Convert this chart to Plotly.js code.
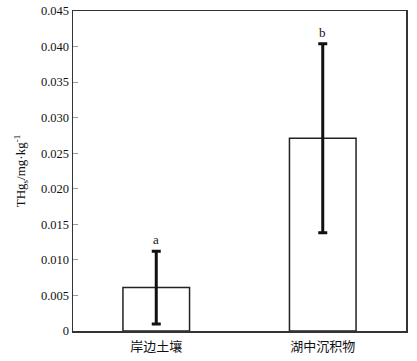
<!DOCTYPE html>
<html><head><meta charset="utf-8">
<script src="https://cdn.plot.ly/plotly-3.0.1.min.js"></script>
<style>html,body{margin:0;padding:0;background:#fff;}#chart{width:417px;height:361px;}</style>
</head><body><div id="chart"></div>
<script>
const categories = ["岸边土壤", "湖中沉积物"];
const means = [0.0061, 0.0271];
const errors = [0.0051, 0.0133];
const letters = ["a", "b"];
const yTickVals = [0, 0.005, 0.010, 0.015, 0.020, 0.025, 0.030, 0.035, 0.040, 0.045];
const yTickText = ["0", "0.005", "0.010", "0.015", "0.020", "0.025", "0.030", "0.035", "0.040", "0.045"];

const trace = {
  type: "bar",
  x: categories,
  y: means,
  width: 0.4,
  marker: {color: "rgba(255,255,255,1)", line: {color: "#222", width: 1.5}},
  error_y: {type: "data", array: errors, visible: true, color: "#111", thickness: 3, width: 4.5},
  hoverinfo: "none"
};

const annotations = categories.map((c, i) => ({
  x: c, y: means[i] + errors[i], yanchor: "bottom", yshift: 2,
  text: letters[i], showarrow: false,
  font: {family: "Liberation Serif, Times New Roman, serif", size: 13, color: "#111"}
}));

const layout = {
  width: 417, height: 361,
  margin: {l: 73, r: 11, t: 11, b: 30},
  paper_bgcolor: "#fff", plot_bgcolor: "#fff",
  showlegend: false,
  bargap: 0.6,
  font: {family: "Liberation Serif, Times New Roman, serif", color: "#111"},
  xaxis: {
    type: "category", range: [-0.5, 1.5],
    showline: true, linecolor: "#333", linewidth: 1.5, mirror: true,
    ticks: "", showgrid: false, zeroline: false, ticklabelstandoff: 3,
    tickfont: {family: "Noto Sans CJK SC, serif", size: 13, color: "#111"}
  },
  yaxis: {
    range: [0, 0.045],
    tickvals: yTickVals, ticktext: yTickText,
    ticks: "inside", ticklen: 5, tickcolor: "#999", tickwidth: 1,
    showline: true, linecolor: "#333", linewidth: 1.5, mirror: true,
    showgrid: false, zeroline: false,
    tickfont: {family: "Liberation Serif, Times New Roman, serif", size: 12.5, color: "#111"},
    title: {text: "THg<sub>s</sub>/mg·kg<sup>-1</sup>", standoff: 12,
      font: {family: "Liberation Serif, Times New Roman, serif", size: 13, color: "#111"}}
  },
  annotations: annotations
};

Plotly.newPlot("chart", [trace], layout, {displayModeBar: false, staticPlot: true});
</script></body></html>
